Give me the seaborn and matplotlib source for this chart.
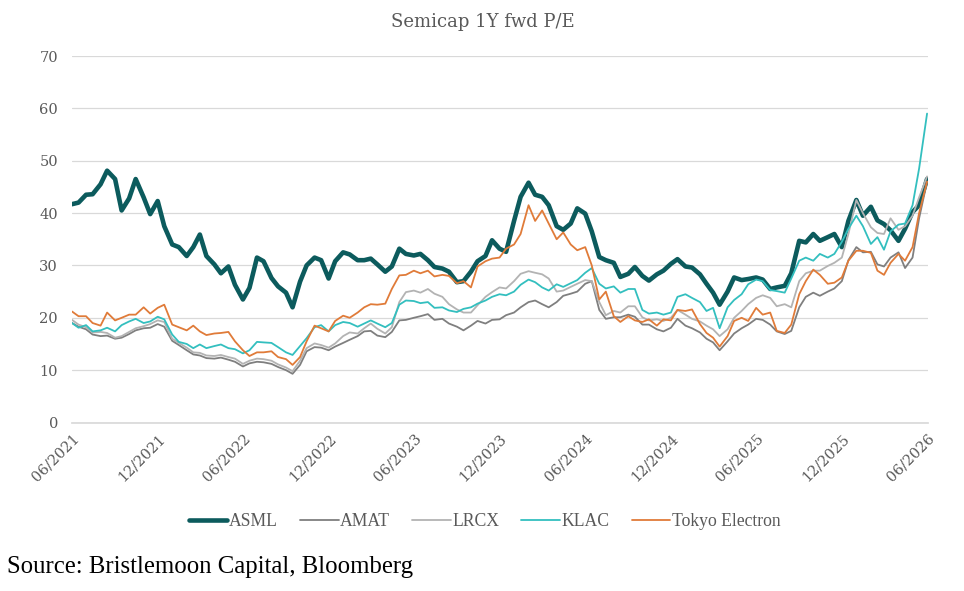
import pandas as pd
import matplotlib
matplotlib.use("Agg")
import matplotlib.pyplot as plt
import matplotlib.dates as mdates
import seaborn as sns

# semi-monthly observation dates, 06/2021 .. 06/2026
dates = pd.date_range("2021-06-01", "2026-06-01", freq="SMS")

asml = [
    41.7, 42.0, 43.5, 43.6, 45.5, 48.1, 46.5, 40.5, 42.8, 46.5,
    43.0, 39.8, 42.3, 37.5, 34.0, 33.5, 31.8, 33.5, 35.9, 31.8,
    30.2, 28.5, 29.8, 26.3, 23.5, 25.7, 31.5, 30.8, 27.6, 26.0,
    24.8, 22.0, 26.9, 30.0, 31.5, 31.0, 27.5, 30.8, 32.5, 32.1,
    31.0, 31.0, 31.3, 30.2, 28.8, 29.8, 33.2, 32.2, 31.9, 32.2,
    31.0, 29.7, 29.4, 28.8, 26.8, 27.0, 28.8, 30.8, 31.8, 34.8,
    33.2, 32.6, 38.5, 43.1, 45.8, 43.5, 43.1, 41.5, 37.5, 36.8,
    38.0, 40.9, 39.9, 36.5, 31.6, 31.0, 30.5, 27.8, 28.4, 29.7,
    28.0, 27.1, 28.3, 29.0, 30.3, 31.2, 29.8, 29.6, 28.3, 26.5,
    24.8, 22.5, 25.0, 27.7, 27.2, 27.4, 27.7, 27.3, 25.5, 25.8,
    26.1, 28.5, 34.7, 34.4, 36.0, 34.7, 35.4, 36.0, 33.5, 38.5,
    42.5, 39.5, 41.2, 38.6, 37.9, 36.7, 34.7, 37.0, 40.2, 41.5,
    46.5,
]
amat = [
    19.0, 18.3, 17.8, 16.8, 16.5, 16.6, 16.0, 16.2, 16.9, 17.6,
    18.0, 18.1, 18.8, 18.3, 15.6, 14.8, 13.8, 13.0, 12.8, 12.3,
    12.2, 12.4, 12.0, 11.6, 10.7, 11.3, 11.6, 11.5, 11.2, 10.6,
    10.0, 9.3, 11.0, 13.6, 14.4, 14.3, 13.8, 14.5, 15.2, 15.8,
    16.5, 17.4, 17.5, 16.6, 16.3, 17.3, 19.5, 19.6, 20.0, 20.3,
    20.7, 19.6, 19.8, 18.9, 18.3, 17.6, 18.5, 19.4, 18.9, 19.6,
    19.7, 20.5, 21.0, 22.0, 23.0, 23.3, 22.6, 22.0, 23.0, 24.2,
    24.6, 25.0, 26.5, 27.0, 21.5, 19.8, 20.1, 20.1, 20.6, 20.2,
    18.7, 18.7, 17.8, 17.4, 18.1, 19.8, 18.5, 18.0, 17.2, 16.0,
    15.3, 13.8, 15.5, 17.0, 18.0, 18.7, 19.8, 19.6, 18.7, 17.4,
    16.9, 17.5, 22.0, 24.0, 24.8, 24.2, 25.0, 25.6, 27.0, 31.0,
    33.5, 32.5, 32.6, 30.2, 29.8, 31.5, 32.5, 29.5, 31.5, 39.0,
    46.0,
]
lrcx = [
    19.6, 18.7, 18.2, 17.2, 17.3, 17.1, 16.2, 16.5, 17.3, 18.0,
    18.4, 18.8, 19.5, 19.2, 16.0, 15.2, 14.3, 13.4, 13.3, 12.8,
    12.7, 12.9, 12.5, 12.2, 11.2, 11.8, 12.2, 12.1, 11.8, 11.1,
    10.5, 9.8, 11.8, 14.2, 15.1, 14.8, 14.3, 15.1, 16.5, 17.2,
    17.0, 18.0, 18.9, 17.9, 17.0, 18.2, 23.0, 24.9, 25.2, 24.8,
    25.5, 24.6, 24.0, 22.6, 21.6, 21.0, 21.0, 22.4, 24.0, 24.9,
    25.8, 25.6, 27.0, 28.4, 28.9, 28.6, 28.3, 27.5, 25.0, 25.2,
    25.9, 26.5, 27.2, 27.0, 23.0, 20.5, 21.3, 21.0, 22.2, 22.2,
    20.1, 19.5, 19.7, 19.4, 20.0, 21.5, 20.6, 19.8, 19.3, 18.5,
    17.8, 16.5, 17.8, 20.0, 21.3, 22.6, 23.8, 24.3, 23.8, 22.2,
    22.6, 22.0, 27.0, 28.5, 29.0, 29.0, 29.9, 30.5, 31.5, 36.0,
    42.5, 40.0, 37.3, 36.2, 36.0, 39.0, 36.8, 37.5, 39.5, 43.0,
    47.0,
]
klac = [
    19.0, 18.1, 18.6, 17.4, 17.6, 18.1, 17.4, 18.6, 19.3, 19.8,
    19.0, 19.3, 20.2, 19.7, 16.8, 15.4, 15.0, 14.2, 14.9, 14.2,
    14.6, 14.9, 14.2, 14.0, 13.2, 13.8, 15.4, 15.3, 15.2, 14.4,
    13.4, 12.9, 14.6, 16.1, 18.2, 18.6, 17.4, 18.6, 19.2, 19.0,
    18.3, 18.9, 19.5, 18.9, 18.2, 19.0, 22.5, 23.3, 23.2, 22.8,
    23.0, 21.9, 22.0, 21.4, 21.1, 21.7, 22.0, 22.7, 23.3, 24.0,
    24.5, 24.3, 25.0, 26.3, 27.3, 26.8, 25.8, 25.2, 26.4, 25.9,
    26.6, 27.2, 28.6, 29.5, 26.5, 25.6, 26.0, 24.8, 25.5, 25.5,
    21.5, 20.8, 21.0, 20.6, 21.0, 24.0, 24.5, 23.8, 23.0, 21.3,
    21.9, 18.0, 22.0, 23.4, 24.5, 26.4, 27.3, 27.0, 25.3, 25.1,
    24.8, 27.5, 30.9, 31.5, 30.9, 32.2, 31.5, 32.2, 34.5, 37.0,
    39.5, 37.5, 34.1, 35.4, 33.0, 36.5, 37.8, 38.0, 41.5, 48.5,
    59.0,
]
tokyo = [
    21.2, 20.3, 20.3, 19.0, 18.5, 21.0, 19.5, 20.0, 20.6, 20.6,
    22.0, 20.8, 21.9, 22.5, 18.7, 18.2, 17.6, 18.5, 17.4, 16.7,
    17.0, 17.1, 17.3, 15.5, 13.8, 12.7, 13.4, 13.4, 13.6, 12.5,
    12.1, 11.0, 12.5, 15.5, 18.5, 18.0, 17.4, 19.4, 20.4, 20.0,
    21.0, 22.0, 22.6, 22.5, 22.7, 25.5, 28.1, 28.2, 29.0, 28.5,
    29.0, 27.9, 28.2, 28.0, 26.6, 27.0, 25.8, 29.8, 30.8, 31.3,
    31.5, 33.2, 34.0, 36.0, 41.5, 38.5, 40.5, 38.0, 35.0, 36.3,
    34.0, 32.9, 33.5, 30.0, 23.5, 25.0, 20.3, 19.2, 20.3, 19.5,
    19.2, 19.7, 18.5, 19.7, 19.5, 21.5, 21.3, 21.6, 18.8, 17.1,
    16.2, 14.5, 16.5, 19.4, 20.0, 19.4, 21.9, 20.6, 21.0, 17.5,
    17.1, 18.7, 24.5, 27.0, 29.2, 28.2, 26.5, 26.7, 27.7, 30.9,
    32.8, 32.8, 32.4, 29.0, 28.2, 30.5, 32.2, 30.9, 33.5, 40.0,
    46.0,
]

names = ["ASML", "AMAT", "LRCX", "KLAC", "Tokyo Electron"]
series = [asml, amat, lrcx, klac, tokyo]
colors = ["#0c5b5d", "#7f7f7f", "#b3b3b3", "#33bfbf", "#e07b39"]
widths = [3.3, 1.3, 1.3, 1.3, 1.3]

sns.set_theme(style="white")
plt.rcParams["font.family"] = ["DejaVu Serif"]

fig = plt.figure(figsize=(9.64, 5.91), dpi=100)
ax = fig.add_axes([72 / 964, 1 - 422.5 / 591, 856 / 964, 366.5 / 591])

for name, vals, col, lw in zip(names, series, colors, widths):
    sns.lineplot(x=dates, y=vals, color=col, linewidth=lw, label=name, ax=ax, legend=False)

ax.set_ylim(0, 70)
ax.set_yticks(range(0, 80, 10))
ax.set_xlim(pd.Timestamp("2021-06-01"), pd.Timestamp("2026-06-03"))
ax.set_xticks(pd.date_range("2021-06-01", "2026-06-01", freq="6MS"))
ax.xaxis.set_major_formatter(mdates.DateFormatter("%m/%Y"))
ax.grid(axis="y", color="#d9d9d9", linewidth=0.9)
ax.grid(axis="x", visible=False)
for s in ["top", "right", "left"]:
    ax.spines[s].set_visible(False)
ax.spines["bottom"].set_color("#d9d9d9")
ax.tick_params(axis="y", length=0, pad=10, labelsize=10.5, labelcolor="#595959")
ax.tick_params(axis="x", length=3.5, width=0.9, color="#d9d9d9", direction="out",
               labelsize=10.5, labelcolor="#595959", pad=3)
for lab in ax.get_xticklabels():
    lab.set_rotation(45)
    lab.set_ha("right")
    lab.set_va("top")
    lab.set_rotation_mode("anchor")
ax.set_xlabel("")
ax.set_ylabel("")

fig.text(0.501, 0.962, "Semicap 1Y fwd P/E", ha="center", va="center",
         fontsize=13, color="#595959")

handles, labels = ax.get_legend_handles_labels()
fig.legend(handles, labels, loc="center", bbox_to_anchor=(484.5 / 964, 1 - 522 / 591), ncol=5,
           frameon=False, handlelength=2.2, handletextpad=0.08, columnspacing=1.25,
           prop={"family": "Liberation Serif", "size": 12.7})
for t in fig.legends[0].get_texts():
    t.set_color("#595959")

fig.text(0.007, 1 - 567 / 591, "Source: Bristlemoon Capital, Bloomberg", ha="left", va="center",
         fontsize=17.8, family="Liberation Serif", color="black")

fig.savefig("out.png", dpi=100)
